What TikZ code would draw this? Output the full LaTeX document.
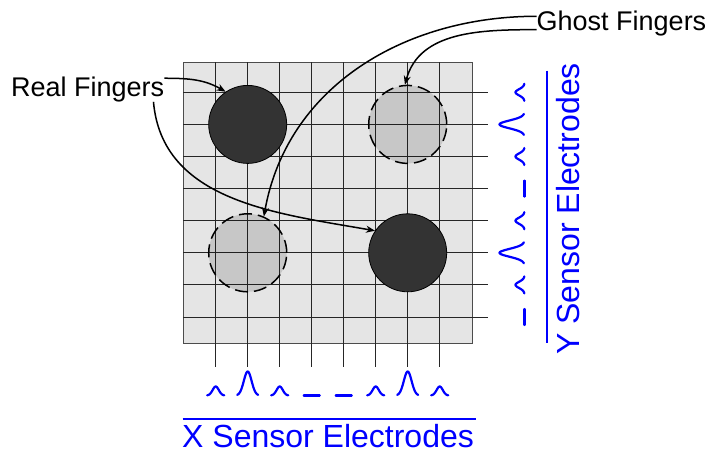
\documentclass[tikz,border=0pt]{standalone}
\usepackage{fontspec}
\setmainfont{Liberation Sans}
\usepackage{tikz}
\usetikzlibrary{arrows.meta, positioning}
\tikzstyle{gridline} = [draw=black!85, line width=0.9pt]
\tikzstyle{realfinger} = [circle, minimum size=78pt, inner sep=0pt,
    fill=black!80, draw=black, line width=0.8pt]
\tikzstyle{ghostfinger} = [circle, minimum size=78pt, inner sep=0pt,
    fill=black, fill opacity=0.13, draw=black, draw opacity=1,
    line width=1.5pt, dash pattern=on 13pt off 6pt]
\tikzstyle{callout} = [inner sep=0pt, font=\fontsize{27}{31}\selectfont]
\tikzstyle{axislabel} = [inner sep=0pt, text=blue, font=\fontsize{32}{38}\selectfont]
\tikzstyle{sigline} = [blue, line width=2.2pt, line cap=round, line join=round]
\tikzstyle{pointer} = [line width=1.5pt, -{Stealth[length=9pt, width=7pt]}]

\begin{document}
\begin{tikzpicture}[x=1pt, y=1pt]
  \useasboundingbox (0,0) rectangle (711,-466);

  % Touch panel with electrodes
  \draw[fill=black!10, draw=black!70, line width=0.8pt] (183.3,-62.3) rectangle (472,-343.3);
  \foreach \i in {0,...,7}{
    \draw[gridline] (215.7+32*\i,-62.3) -- (215.7+32*\i,-366.7);
    \draw[gridline] (183.3,-92.3-32.1*\i) -- (488,-92.3-32.1*\i);
  }

  % Fingers
  \node[realfinger] (realTL) at (247.7,-124.4) {};
  \node[realfinger] (realBR) at (407.7,-252.8) {};
  \node[ghostfinger] (ghostTR) at (407.7,-124.4) {};
  \node[ghostfinger] (ghostBL) at (247.7,-252.8) {};

  % Callouts
  \node[callout, anchor=base west] (realtxt) at (11,-96) {Real Fingers};
  \node[callout, anchor=base west] (ghosttxt) at (536.5,-30.7) {Ghost Fingers};
  \draw[pointer] (realtxt.8) to[out=0, in=150] (realTL.124);
  \draw[pointer] ([xshift=-11pt]realtxt.south east) to[out=-85, in=170] (realBR.146);
  \draw[pointer] (ghosttxt.175) to[out=180, in=80] (ghostBL.66);
  \draw[pointer] (ghosttxt.184) to[out=180, in=75] (ghostTR.94);

  % X electrode signals
  \foreach \pk/\hw/\sg [count=\i from 0] in {9/8.5/3.1, 24/10.5/3.9, 9/8.5/3.1, 0/8/1,
      0/8/1, 9/8.5/3.1, 24/10.5/3.9, 9/8.5/3.1}
    \draw[sigline, shift={(215.7+32*\i,-395.5)}]
      plot[domain=-\hw:\hw, samples=40, smooth] (\x, {\pk*exp(-(\x*\x)/(2*\sg*\sg))});

  % Y electrode signals
  \foreach \pk/\hw/\sg [count=\i from 0] in {9/8.5/3.1, 25/10.5/3.9, 9/8.5/3.1, 0/8/1,
      9/8.5/3.1, 25/10.5/3.9, 9/8.5/3.1, 0/8/1}
    \draw[sigline, shift={(524.5,-92.3-32.1*\i)}]
      plot[domain=-\hw:\hw, samples=40, smooth] ({-\pk*exp(-(\x*\x)/(2*\sg*\sg))}, \x);

  % Axis labels
  \node[axislabel, anchor=base west] (xtxt) at (182,-447.7) {X Sensor Electrodes};
  \node[axislabel, anchor=base west, rotate=90] (ytxt) at (579,-355) {Y Sensor Electrodes};
  \draw[blue, line width=1.8pt] (182.7,-419.3) -- (476,-419.3);
  \draw[blue, line width=1.8pt] (547.3,-70.7) -- (547.3,-343.3);
\end{tikzpicture}
\end{document}
